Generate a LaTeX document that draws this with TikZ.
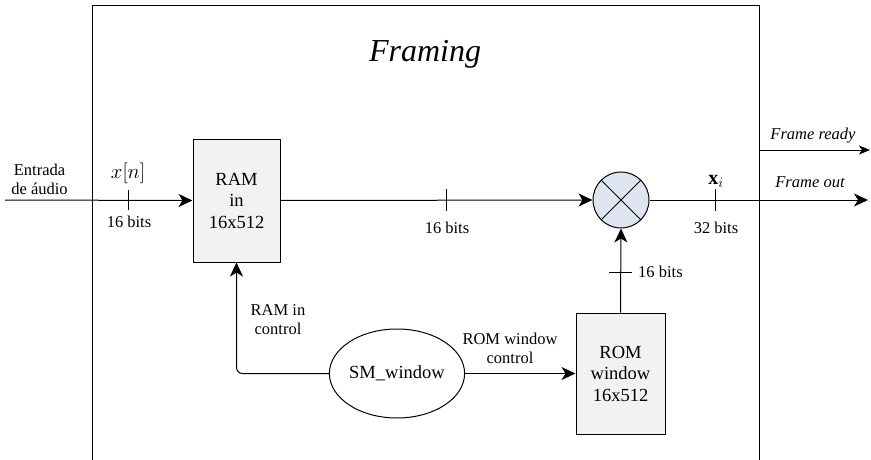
\documentclass[tikz,border=0pt]{standalone}
\usepackage{fontspec}
\setmainfont{Liberation Serif}
\usetikzlibrary{arrows.meta,calc,shapes.geometric}
\definecolor{boxfill}{HTML}{F2F2F2}
\definecolor{mulfill}{HTML}{DEE4F0}
\tikzset{
  sig/.style={line width=1pt,-{Stealth[length=14pt,width=13pt,inset=4pt]}},
  wire/.style={line width=1pt},
  blockbox/.style={draw,line width=1pt,fill=boxfill,align=center,font=\fontsize{18.5}{21.5}\selectfont,inner sep=0pt},
  lbl/.style={font=\fontsize{16.5}{19.5}\selectfont,align=center,inner sep=0pt},
  ital/.style={font=\fontsize{16.5}{19.5}\selectfont\itshape,inner sep=0pt},
  mathlbl/.style={font=\fontsize{20}{24}\selectfont,inner sep=0pt,anchor=base},
}
\begin{document}
\begin{tikzpicture}[x=1pt,y=-1pt]
\useasboundingbox (0,0) rectangle (871,460);
% outer block frame, open at the bottom
\coordinate (fbl) at (92,460);
\coordinate (ftl) at (92,5);
\coordinate (ftr) at (759,5);
\coordinate (fbr) at (759,460);
\draw[line width=0.8pt] (fbl) -- (ftl) -- (ftr) -- (fbr);
\node[font=\fontsize{32}{36}\selectfont\itshape,anchor=base,inner sep=0pt] (title) at (425,62) {Framing};

% blocks
\node[blockbox,minimum width=87pt,minimum height=123pt] (ram) at (236.5,200.5) {RAM\\in\\16x512};
\node[draw,circle,line width=1pt,fill=mulfill,minimum size=56pt,inner sep=0pt] (mul) at (621,200) {};
\draw[line width=1pt] (mul.north west) -- (mul.south east) (mul.north east) -- (mul.south west);
\node[blockbox,minimum width=89pt,minimum height=121pt] (rom) at (620.5,373.5) {ROM\\window\\16x512};
\node[draw,ellipse,line width=1pt,minimum width=134pt,minimum height=89pt,inner sep=0pt,font=\fontsize{18.5}{22}\selectfont] (sm) at (397,373.5) {SM\_window};

% input signal
\coordinate (in) at (5,200);
\node[lbl] (inlbl) at (39.5,179.5) {Entrada\\de áudio};
\draw[sig] (in) -- (ram.west);
\coordinate (t1) at (128,200);
\draw[wire] ($(t1)+(0,-10)$) -- ($(t1)+(0,10)$);
\node[mathlbl] (xn) at (128,178) {$x[n]$};
\node[lbl] (b1) at (129,221.5) {16 bits};

% RAM to multiplier
\draw[sig] (ram.east) -- (mul.west);
\coordinate (t2) at (446,200);
\draw[wire] ($(t2)+(0,-11)$) -- ($(t2)+(0,11)$);
\node[lbl] (b2) at (447,227.5) {16 bits};

% multiplier output
\coordinate (out) at (868,200);
\draw[sig] (mul.east) -- (out);
\coordinate (t3) at (715,200);
\draw[wire] ($(t3)+(0,-11)$) -- ($(t3)+(0,11)$);
\node[mathlbl] (xi) at (716,184) {$\mathbf{x}_i$};
\node[lbl] (b3) at (716,227.5) {32 bits};
\node[ital] (foutl) at (810,182.5) {Frame out};

% frame ready flag
\coordinate (rdys) at (759,150);
\coordinate (rdye) at (870,150);
\draw[line width=1pt,-{Stealth[length=11pt,width=9pt,inset=3pt]}] (rdys) -- (rdye);
\node[ital] (frdyl) at (813,136) {Frame ready};

% ROM to multiplier
\draw[sig] (rom.north) -- (mul.south);
\coordinate (t4) at (620.5,272);
\draw[wire] ($(t4)+(-11.5,0)$) -- ($(t4)+(11.5,0)$);
\node[lbl,anchor=west] (b4) at (638,271.5) {16 bits};

% control lines from the state machine
\draw[sig] (sm.east) -- (rom.west);
\node[lbl] (romctl) at (510,348.5) {ROM window\\control};
\draw[sig,rounded corners=6pt] (sm.west) -| (ram.south);
\node[lbl] (ramctl) at (278,319.5) {RAM in\\control};
\end{tikzpicture}
\end{document}
